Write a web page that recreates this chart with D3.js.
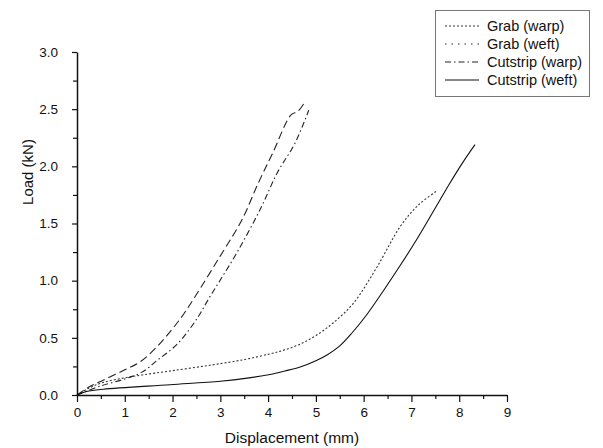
<!DOCTYPE html>
<html>
<head>
<meta charset="utf-8">
<script src="https://cdn.jsdelivr.net/npm/d3@7"></script>
<style>
  body { margin: 0; background: #fff; }
  svg { font-family: "Liberation Sans", Arial, sans-serif; }
</style>
</head>
<body>
<div id="chart"></div>
<script>
// series: displacement (mm) / load (kN)
const grabWeftX = [0, 0.25, 0.55, 1.0, 1.32, 1.67, 2.0, 2.22, 2.47, 2.99, 3.45, 3.79, 4.1, 4.48, 4.62, 4.75];
const grabWeftY = [0, 0.07, 0.13, 0.22, 0.29, 0.42, 0.58, 0.7, 0.86, 1.21, 1.53, 1.85, 2.12, 2.45, 2.48, 2.55];

const cutWarpX = [0, 0.5, 1.0, 1.36, 1.7, 2.11, 2.53, 2.74, 2.99, 3.34, 3.83, 4.2, 4.56, 4.85];
const cutWarpY = [0, 0.08, 0.14, 0.2, 0.31, 0.45, 0.68, 0.83, 1.0, 1.24, 1.62, 1.95, 2.2, 2.49];

const grabWarpX = [0, 0.25, 0.55, 1.0, 1.36, 1.95, 2.78, 3.5, 4.04, 4.35, 4.67, 5.0, 5.36, 5.78, 6.28, 6.76, 7.14, 7.55];
const grabWarpY = [0, 0.06, 0.11, 0.15, 0.175, 0.21, 0.26, 0.31, 0.36, 0.395, 0.445, 0.52, 0.63, 0.8, 1.12, 1.47, 1.66, 1.79];

const cutWeftX = [0, 0.2, 0.55, 1.95, 3.0, 3.6, 4.04, 4.35, 4.67, 5.0, 5.25, 5.5, 5.75, 6.06, 6.41, 6.76, 7.11, 7.45, 7.8, 8.1, 8.33];
const cutWeftY = [0, 0.03, 0.05, 0.09, 0.12, 0.15, 0.18, 0.21, 0.245, 0.3, 0.355, 0.43, 0.54, 0.7, 0.91, 1.13, 1.36, 1.6, 1.85, 2.05, 2.19];

const legendNames = ["Grab (warp)", "Grab (weft)", "Cutstrip (warp)", "Cutstrip (weft)"];
const xTicks = [0, 1, 2, 3, 4, 5, 6, 7, 8, 9];
const yTicks = [0, 0.5, 1.0, 1.5, 2.0, 2.5, 3.0];

const series = [
  { name: legendNames[0], xs: grabWarpX, ys: grabWarpY, dash: "2,2", stroke: "#333", legendDash: "2,2" },
  { name: legendNames[1], xs: grabWeftX, ys: grabWeftY, dash: "8,4", stroke: "#222", legendDash: "1.5,5" },
  { name: legendNames[2], xs: cutWarpX, ys: cutWarpY, dash: "6,3,1.5,3", stroke: "#222", legendDash: "6,3,1.5,3" },
  { name: legendNames[3], xs: cutWeftX, ys: cutWeftY, dash: null, stroke: "#111", legendDash: null }
];

const w = 603, h = 448;
const m = { top: 52, right: 96, bottom: 53, left: 77 };

const svg = d3.select("#chart").append("svg")
  .attr("width", w)
  .attr("height", h);

const x = d3.scaleLinear().domain([0, 9]).range([m.left, w - m.right]);
const y = d3.scaleLinear().domain([0, 3]).range([h - m.bottom, m.top]);

// minor ticks
const xMinor = d3.range(0.5, 9, 1);
const yMinor = d3.range(0.25, 3, 0.5);

svg.append("g")
  .attr("transform", `translate(0,${h - m.bottom})`)
  .call(d3.axisBottom(x).tickValues(xMinor).tickSize(4).tickFormat(""))
  .call(g => g.select(".domain").remove());

svg.append("g")
  .attr("transform", `translate(${m.left},0)`)
  .call(d3.axisLeft(y).tickValues(yMinor).tickSize(4).tickFormat(""))
  .call(g => g.select(".domain").remove());

svg.append("g")
  .attr("transform", `translate(0,${h - m.bottom})`)
  .call(d3.axisBottom(x).tickValues(xTicks).tickSize(7).tickSizeOuter(0).tickPadding(5).tickFormat(d3.format("d")));

svg.append("g")
  .attr("transform", `translate(${m.left},0)`)
  .call(d3.axisLeft(y).tickValues(yTicks).tickSize(5).tickSizeOuter(0).tickPadding(14).tickFormat(d3.format(".1f")));

svg.selectAll(".tick line").attr("stroke", "#111").attr("stroke-width", 1.2);
svg.selectAll(".domain").attr("stroke", "#111").attr("stroke-width", 1.5);
svg.selectAll(".tick text").attr("font-size", 13.5).attr("fill", "#111")
  .attr("font-family", "'Liberation Sans', Arial, sans-serif");

// axis titles
svg.append("text")
  .attr("x", 292)
  .attr("y", 443)
  .attr("text-anchor", "middle")
  .attr("font-size", 15.5)
  .attr("fill", "#111")
  .text("Displacement (mm)");

svg.append("text")
  .attr("transform", "translate(33,172) rotate(-90)")
  .attr("text-anchor", "middle")
  .attr("font-size", 15)
  .attr("fill", "#111")
  .text("Load (kN)");

// curves
const line = d3.line()
  .x(d => x(d[0]))
  .y(d => y(d[1]))
  .curve(d3.curveCatmullRom.alpha(0.5));

series.forEach(s => {
  const pts = s.xs.map((v, i) => [v, s.ys[i]]);
  svg.append("path")
    .datum(pts)
    .attr("d", line)
    .attr("fill", "none")
    .attr("stroke", s.stroke)
    .attr("stroke-width", 1.1)
    .attr("stroke-dasharray", s.dash);
});

// legend
const legend = svg.append("g").attr("id", "legend");
legend.append("rect")
  .attr("x", 435.5)
  .attr("y", 10.5)
  .attr("width", 154)
  .attr("height", 86)
  .attr("fill", "#fff")
  .attr("stroke", "#777")
  .attr("stroke-width", 1);

const item = legend.selectAll("g.item")
  .data(series)
  .enter()
  .append("g")
  .attr("class", "item")
  .attr("transform", (d, i) => `translate(0,${26 + i * 18})`);

item.append("line")
  .attr("x1", 445)
  .attr("x2", 479)
  .attr("y1", 0)
  .attr("y2", 0)
  .attr("stroke", d => d.stroke)
  .attr("stroke-width", 1)
  .attr("stroke-dasharray", d => d.legendDash);

item.append("text")
  .attr("x", 487)
  .attr("y", 5)
  .attr("font-size", 14.5)
  .attr("fill", "#111")
  .text(d => d.name);
</script>
</body>
</html>
